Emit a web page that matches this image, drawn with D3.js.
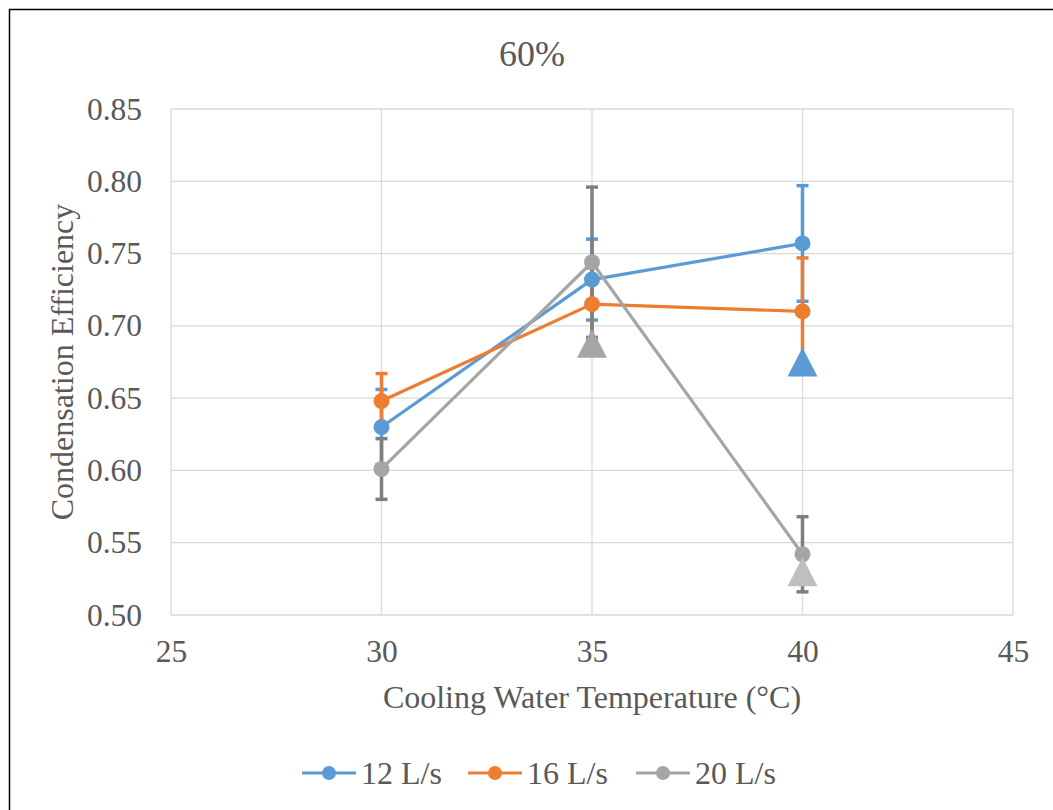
<!DOCTYPE html>
<html><head><meta charset="utf-8">
<script src="https://cdn.jsdelivr.net/npm/d3@7"></script>
<style>body{margin:0;background:#fff;} svg{display:block;} text{font-family:"Liberation Serif","Times New Roman",serif;}</style>
</head><body>
<svg id="c" width="1053" height="810"></svg>
<script>
const temps = [30, 35, 40];
const seriesNames = ["12 L/s", "16 L/s", "20 L/s"];
const seriesColors = ["#5B9BD5", "#ED7D31", "#A5A5A5"];
const errColors = ["#5B9BD5", "#ED7D31", "#7F7F7F"];
const eff12 = [0.630, 0.732, 0.757];
const eff16 = [0.648, 0.715, 0.710];
const eff20 = [0.601, 0.744, 0.542];
const err12 = [0.026, 0.028, 0.040];
const err16 = [0.019, 0.025, 0.037];
const err20 = [0.021, 0.052, 0.026];
// extra triangle markers (no legend entry)
const triX = [35, 40, 40];
const triY = [0.688, 0.675, 0.530];
const triColors = ["#A5A5A5", "#5B9BD5", "#BFBFBF"];
const xTicks = [25, 30, 35, 40, 45];
const yTicks = [0.50, 0.55, 0.60, 0.65, 0.70, 0.75, 0.80, 0.85];
const titleText = "60%";
const xTitle = "Cooling Water Temperature (°C)";
const yTitle = "Condensation Efficiency";

const values = [eff12, eff16, eff20];
const errs = [err12, err16, err20];

const svg = d3.select("#c");
const font = '"Liberation Serif", "Times New Roman", serif';
const txt = "#595959";

// outer frame
svg.append("rect").attr("x", 9.5).attr("y", 9.5).attr("width", 1200).attr("height", 1000)
  .attr("fill", "none").attr("stroke", "#000").attr("stroke-width", 1.5);

const L = 171, R = 1013, T = 109, B = 615;
const x = d3.scaleLinear().domain([25, 45]).range([L, R]);
const y = d3.scaleLinear().domain([0.50, 0.85]).range([B, T]);

// grid
const g = svg.append("g");
g.selectAll(".hg").data(yTicks).join("line")
  .attr("x1", L).attr("x2", R).attr("y1", d => y(d)).attr("y2", d => y(d))
  .attr("stroke", "#D9D9D9").attr("stroke-width", 1.3);
g.selectAll(".vg").data(xTicks).join("line")
  .attr("y1", T).attr("y2", B).attr("x1", d => x(d)).attr("x2", d => x(d))
  .attr("stroke", "#D9D9D9").attr("stroke-width", 1.3);

// axes (labels only)
const yAxis = d3.axisLeft(y).tickValues(yTicks).tickFormat(d3.format(".2f")).tickSize(0).tickPadding(29);
const ya = svg.append("g").attr("transform", `translate(${L},0)`).call(yAxis);
const xAxis = d3.axisBottom(x).tickValues(xTicks).tickFormat(d3.format("d")).tickSize(0).tickPadding(25);
const xa = svg.append("g").attr("transform", `translate(0,${B})`).call(xAxis);
[ya, xa].forEach(a => {
  a.attr("font-family", null).attr("font-size", null);
  a.select(".domain").remove();
  a.selectAll("text").style("font-family", font).style("font-size", "31.5px").attr("fill", txt);
});

// error bars
const cap = 6;
values.forEach((vals, s) => {
  const eg = svg.append("g").attr("stroke", errColors[s]).attr("stroke-width", 3.5);
  temps.forEach((t, i) => {
    const v = vals[i], e = errs[s][i];
    eg.append("line").attr("x1", x(t)).attr("x2", x(t)).attr("y1", y(v - e)).attr("y2", y(v + e));
    [v - e, v + e].forEach(w => eg.append("line")
      .attr("x1", x(t) - cap).attr("x2", x(t) + cap).attr("y1", y(w)).attr("y2", y(w)));
  });
});

// lines & markers
const line = d3.line().x((d, i) => x(temps[i])).y(d => y(d));
values.forEach((vals, s) => {
  svg.append("path").attr("d", line(vals)).attr("fill", "none")
    .attr("stroke", seriesColors[s]).attr("stroke-width", 3.2).attr("stroke-linejoin", "round");
});
values.forEach((vals, s) => {
  svg.append("g").selectAll("circle").data(vals).join("circle")
    .attr("cx", (d, i) => x(temps[i])).attr("cy", d => y(d)).attr("r", 8)
    .attr("fill", seriesColors[s]);
});

// triangles
triY.forEach((v, i) => {
  const cx = x(triX[i]), cy = y(v);
  svg.append("path")
    .attr("d", `M${cx},${cy - 14.5}L${cx + 15},${cy + 14.5}L${cx - 15},${cy + 14.5}Z`)
    .attr("fill", triColors[i]);
});

// title
svg.append("text").attr("x", 532).attr("y", 66).attr("text-anchor", "middle")
  .style("font-family", font).style("font-size", "36px").attr("fill", txt).text(titleText);
// axis titles
svg.append("text").attr("x", 592).attr("y", 708).attr("text-anchor", "middle")
  .style("font-family", font).style("font-size", "32px").attr("fill", txt).text(xTitle);
svg.append("text").attr("transform", "translate(73,362) rotate(-90)").attr("text-anchor", "middle")
  .style("font-family", font).style("font-size", "32px").attr("fill", txt).text(yTitle);

// legend
const legX = [302, 468, 636];
seriesNames.forEach((n, s) => {
  const lg = svg.append("g").attr("transform", `translate(${legX[s]},773)`);
  lg.append("line").attr("x1", 0).attr("x2", 54).attr("stroke", seriesColors[s]).attr("stroke-width", 3.2);
  lg.append("circle").attr("cx", 27).attr("r", 7).attr("fill", seriesColors[s]);
  lg.append("text").attr("x", 59).attr("y", 11).style("font-family", font).style("font-size", "32px")
    .attr("fill", txt).text(n);
});
</script>
</body></html>
